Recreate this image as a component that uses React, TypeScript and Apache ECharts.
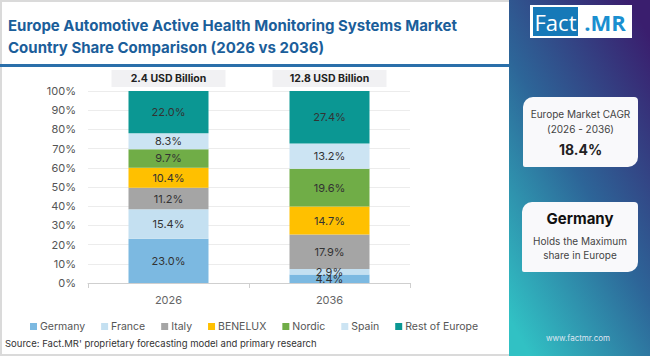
import React, { useEffect, useRef } from "react";
import * as echarts from "echarts";

const years = ["2026", "2036"];
const marketSizes = ["2.4 USD Billion", "12.8 USD Billion"];
const countries = ["Germany", "France", "Italy", "BENELUX", "Nordic", "Spain", "Rest of Europe"];
const germany = [23.0, 4.4];
const france = [15.4, 2.9];
const italy = [11.2, 17.9];
const benelux = [10.4, 14.7];
const nordic = [9.7, 19.6];
const spain = [8.3, 13.2];
const restOfEurope = [22.0, 27.4];
const yTicks = [0, 100, 10];
const cagr = "18.4%";
const leader = "Germany";

const colors = ["#7cb9e1", "#c4e0f1", "#a5a5a5", "#ffc000", "#70ad47", "#cce4f3", "#0b9793"];
const FONT = "Inter, 'Open Sans', sans-serif";

export default function App() {
  const ref = useRef<HTMLDivElement>(null);
  useEffect(() => {
    if (!ref.current) return;
    const chart = echarts.init(ref.current, null, { renderer: "svg" });
    const values = [germany, france, italy, benelux, nordic, spain, restOfEurope];
    const series = countries.map((name, i) => ({
      name,
      type: "bar",
      stack: "total",
      barWidth: 80,
      xAxisIndex: 0,
      itemStyle: { color: colors[i] },
      label: {
        show: true,
        position: "inside",
        color: "#333",
        fontSize: 11,
        fontFamily: FONT,
        formatter: (p: any) => Number(p.value).toFixed(1) + "%",
      },
      data: values[i],
    }));
    const txt = (x: number, y: number, text: string, o: any = {}) => ({
      type: "text",
      z: 10,
      style: {
        x,
        y,
        text,
        fontFamily: FONT,
        fontSize: 10,
        fill: "#444",
        align: "center",
        verticalAlign: "middle",
        ...o,
      },
    });
    chart.setOption({
      animation: false,
      backgroundColor: "#fff",
      textStyle: { fontFamily: FONT },
      grid: { left: 88, right: 240, top: 91, bottom: 73 },
      legend: {
        data: countries,
        left: 30,
        top: 321,
        padding: 0,
        icon: "rect",
        itemWidth: 7,
        itemHeight: 7,
        itemGap: 16,
        textStyle: { fontSize: 10.5, color: "#555", fontFamily: FONT, padding: [0, 0, 0, -2] },
      },
      xAxis: [
        {
          type: "category",
          data: years,
          axisLine: { lineStyle: { color: "#cfcfcf" } },
          axisTick: { show: true, lineStyle: { color: "#cfcfcf" } },
          axisLabel: { color: "#666", fontSize: 11, margin: 11 },
        },
        {
          type: "category",
          position: "top",
          data: marketSizes,
          axisLine: { show: false },
          axisTick: { show: false },
          axisLabel: {
            color: "#222",
            fontSize: 10.5,
            fontWeight: "bold",
            backgroundColor: "#f1f1f3",
            width: 114,
            align: "center",
            padding: [3, 0, 3, 0],
            margin: 4,
          },
        },
      ],
      yAxis: {
        type: "value",
        min: yTicks[0],
        max: yTicks[1],
        interval: yTicks[2],
        axisLabel: { formatter: "{value}%", color: "#555", fontSize: 11, margin: 12 },
        splitLine: { lineStyle: { color: "#ececec" } },
        axisLine: { show: false },
        axisTick: { show: false },
      },
      series,
      graphic: [
        {
          type: "rect",
          z: 0,
          shape: { x: 1, y: 1, width: 648, height: 354 },
          style: { fill: "none", stroke: "#dadada", lineWidth: 2 },
        },
        txt(8, 25, "Europe Automotive Active Health Monitoring Systems Market", {
          fontSize: 15, fontWeight: "bold", fill: "#1b5e9a", align: "left",
        }),
        txt(8, 47, "Country Share Comparison (2026 vs 2036)", {
          fontSize: 15, fontWeight: "bold", fill: "#1b5e9a", align: "left",
        }),
        {
          type: "rect",
          z: 5,
          shape: { x: 0, y: 64, width: 510, height: 3 },
          style: { fill: "#2a6faa" },
        },
        {
          type: "rect",
          z: 5,
          shape: { x: 509, y: 0, width: 141, height: 356 },
          style: {
            fill: new echarts.graphic.LinearGradient(0.15, 1, 0.85, 0, [
              { offset: 0, color: "#31c1c4" },
              { offset: 0.5, color: "#2d6598" },
              { offset: 1, color: "#3a1e6e" },
            ]),
          },
        },
        {
          type: "rect",
          z: 6,
          shape: { x: 530, y: 5, width: 102, height: 33 },
          style: { fill: "#fff" },
        },
        {
          type: "rect",
          z: 7,
          shape: { x: 533, y: 7, width: 45, height: 29 },
          style: { fill: "#1679b8" },
        },
        txt(555.5, 22, "Fact", { fontSize: 22, fill: "#fff", fontFamily: "'Open Sans', sans-serif" }),
        txt(605, 22, ".MR", { fontSize: 22, fontWeight: "bold", fill: "#1a8fd0", fontFamily: "'Open Sans', sans-serif" }),
        {
          type: "rect",
          z: 6,
          shape: { x: 523, y: 97, width: 115, height: 70, r: [10, 4, 10, 2] },
          style: { fill: "#f9f9fb" },
        },
        txt(580.5, 114, "Europe Market CAGR"),
        txt(580.5, 129, "(2026 - 2036)"),
        txt(580.5, 149, cagr, { fontSize: 14, fontWeight: "bold", fill: "#222" }),
        {
          type: "rect",
          z: 6,
          shape: { x: 522, y: 202, width: 116, height: 70, r: [10, 4, 10, 2] },
          style: { fill: "#f9f9fb" },
        },
        txt(580, 218, leader, { fontSize: 15, fontWeight: "bold", fill: "#111" }),
        txt(580, 241, "Holds the Maximum"),
        txt(580, 255, "share in Europe"),
        txt(578, 338, "www.factmr.com", { fontSize: 8, fill: "#dfe6f2" }),
        txt(5, 343, "Source: Fact.MR' proprietary forecasting model and primary research", {
          fontSize: 9.5, fill: "#333", align: "left",
        }),
      ],
    });
    return () => chart.dispose();
  }, []);
  return (
    <div
      ref={ref}
      style={{ position: "absolute", left: 0, top: 0, width: 650, height: 356 }}
    />
  );
}
